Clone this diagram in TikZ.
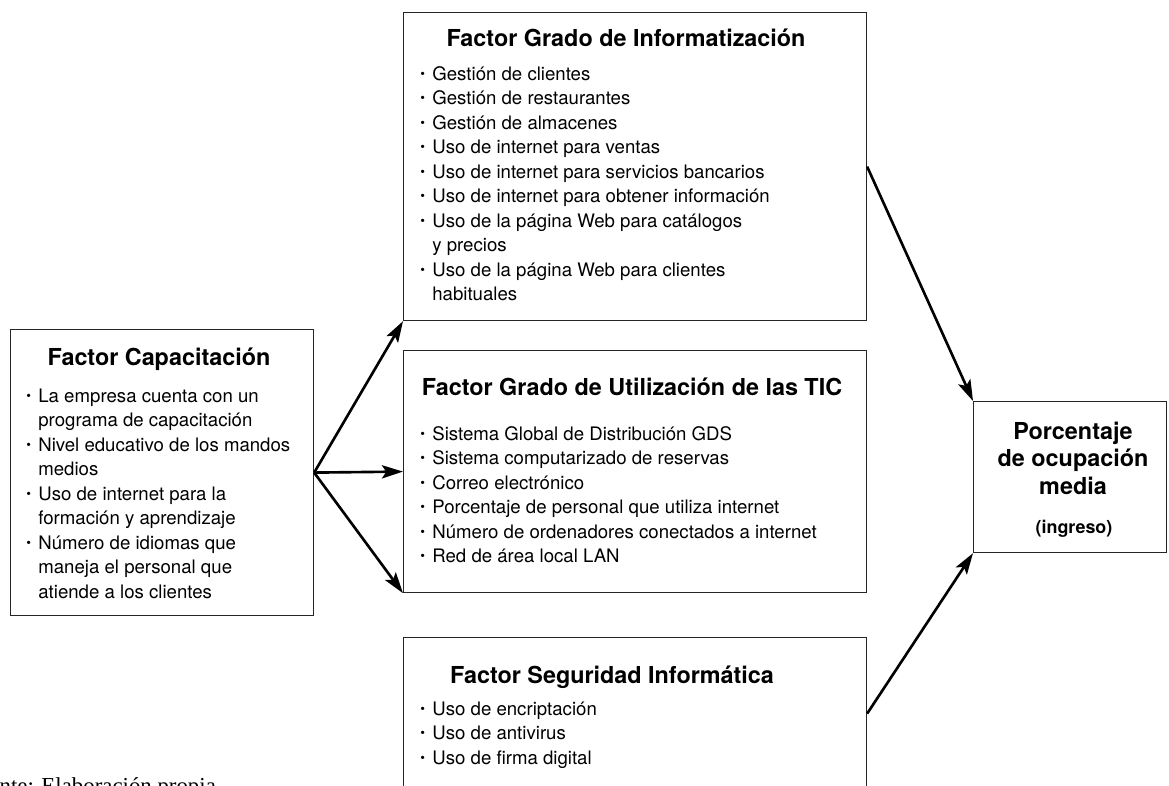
\documentclass[tikz,border=0pt]{standalone}
\usepackage{fontspec}
\setmainfont{TeX Gyre Heros}
\newfontfamily\fuentefont{Liberation Serif}
\usetikzlibrary{arrows.meta}
\newcommand{\bul}{\llap{\raisebox{0.2ex}{\scalebox{0.72}{\textbullet}}\hspace{4.2pt}}}
\newcommand{\titulo}{\fontsize{13.3}{16}\selectfont\bfseries}
\newcommand{\cuerpo}{\fontsize{10.6}{13.95}\selectfont}

\begin{document}
\begin{tikzpicture}[
  x=0.02cm,
  y=-0.02cm,
  caja/.style={draw=black!85, line width=0.7pt, anchor=north west, inner sep=0pt},
  tit/.style={anchor=base, inner sep=0pt, font=\titulo},
  lista/.style={anchor=base west, inner sep=0pt, font=\cuerpo},
  flecha/.style={-{Stealth[length=12pt,width=7.5pt,inset=2.5pt]}, line width=1.5pt}
]
\useasboundingbox (0,0) rectangle (1169,785);
\clip (0,0) rectangle (1169,785);

% cajas
\node[caja, minimum width=6.06cm, minimum height=5.72cm] (cap) at (10,329) {};
\node[caja, minimum width=9.26cm, minimum height=6.16cm] (inf) at (403,12) {};
\node[caja, minimum width=9.26cm, minimum height=4.84cm] (tic) at (403,350) {};
\node[caja, minimum width=9.26cm, minimum height=3.04cm] (seg) at (403,637) {};
\node[caja, minimum width=3.86cm, minimum height=3.02cm] (por) at (973,401) {};

% titulos
\node[tit] (capT) at (159,365) {Factor Capacitación};
\node[tit] (infT) at (626,46) {Factor Grado de Informatización};
\node[tit] (ticT) at (632,395) {Factor Grado de Utilización de las TIC};
\node[tit] (segT) at (612,683) {Factor Seguridad Informática};

% listas
\node[lista] (capL) at (38,402) {\begin{tabular}[t]{@{}l@{}}
\bul La empresa cuenta con un\\
programa de capacitación\\
\bul Nivel educativo de los mandos\\
medios\\
\bul Uso de internet para la\\
formación y aprendizaje\\
\bul Número de idiomas que\\
maneja el personal que\\
atiende a los clientes
\end{tabular}};
\node[lista] (infL) at (432,80) {\begin{tabular}[t]{@{}l@{}}
\bul Gestión de clientes\\
\bul Gestión de restaurantes\\
\bul Gestión de almacenes\\
\bul Uso de internet para ventas\\
\bul Uso de internet para servicios bancarios\\
\bul Uso de internet para obtener información\\
\bul Uso de la página Web para catálogos\\
y precios\\
\bul Uso de la página Web para clientes\\
habituales
\end{tabular}};
\node[lista] (ticL) at (432,440) {\begin{tabular}[t]{@{}l@{}}
\bul Sistema Global de Distribución GDS\\
\bul Sistema computarizado de reservas\\
\bul Correo electrónico\\
\bul Porcentaje de personal que utiliza internet\\
\bul Número de ordenadores conectados a internet\\
\bul Red de área local LAN
\end{tabular}};
\node[lista] (segL) at (432,715) {\begin{tabular}[t]{@{}l@{}}
\bul Uso de encriptación\\
\bul Uso de antivirus\\
\bul Uso de firma digital
\end{tabular}};

% resultado
\node[anchor=base, inner sep=0pt, font=\fontsize{13.3}{15.9}\selectfont\bfseries] (porT) at (1073,439)
  {\begin{tabular}[t]{@{}c@{}}Porcentaje\\ de ocupación\\ media\end{tabular}};
\node[anchor=base, inner sep=0pt, font=\fontsize{10.2}{12}\selectfont\bfseries] (porI) at (1074,533) {(ingreso)};

% fuente
\node[anchor=base west, inner sep=0pt, font=\fuentefont\fontsize{13}{15}\selectfont] (fuente) at (-35,793) {Fuente: Elaboración propia};

% flechas
\draw[flecha] (cap.east) -- (inf.south west);
\draw[flecha] (cap.east) -- (tic.west);
\draw[flecha] (cap.east) -- (tic.south west);
\draw[flecha] (inf.east) -- (por.north west);
\draw[flecha] (seg.east) -- (por.south west);
\end{tikzpicture}
\end{document}
